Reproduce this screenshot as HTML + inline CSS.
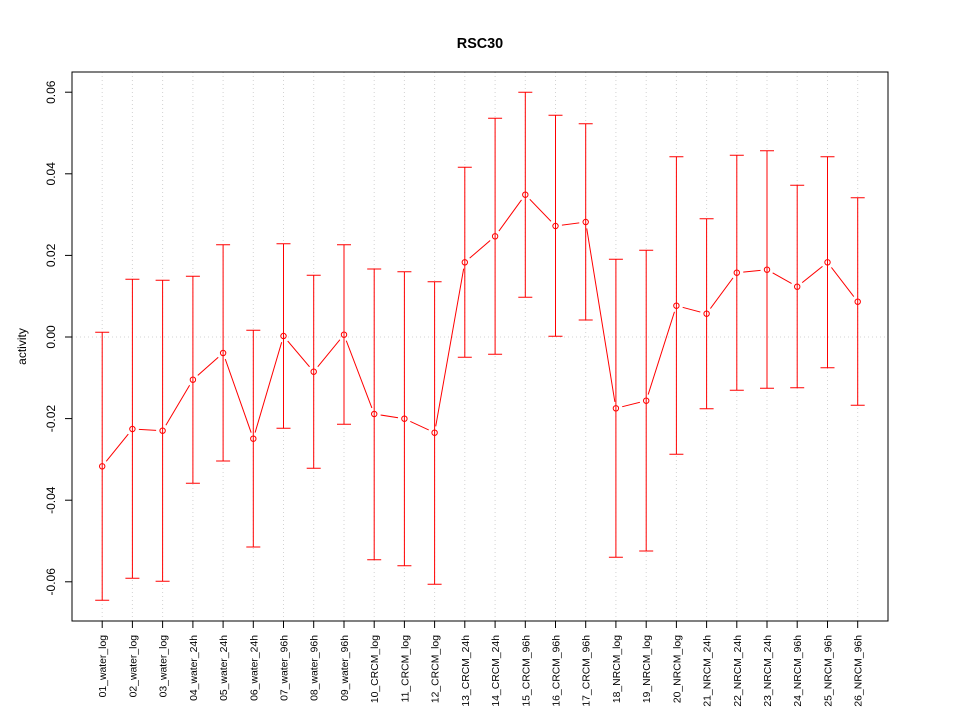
<!DOCTYPE html>
<html><head><meta charset="utf-8"><style>
html,body{margin:0;padding:0;background:#fff;}
svg{display:block;font-family:"Liberation Sans",Arial,sans-serif;}
</style></head><body>
<svg width="960" height="720" viewBox="0 0 960 720" xmlns="http://www.w3.org/2000/svg">
<rect width="960" height="720" fill="#fff"/>
<defs>
<mask id="gapmask" maskUnits="userSpaceOnUse" x="0" y="0" width="960" height="720">
<rect width="960" height="720" fill="#fff"/>
<g fill="#000">
<circle cx="102.2" cy="466.3" r="6.5"/><circle cx="132.4" cy="429" r="6.5"/><circle cx="162.6" cy="430.7" r="6.5"/><circle cx="192.9" cy="379.7" r="6.5"/><circle cx="223.1" cy="353" r="6.5"/><circle cx="253.3" cy="438.7" r="6.5"/><circle cx="283.5" cy="336" r="6.5"/><circle cx="313.7" cy="371.7" r="6.5"/><circle cx="344" cy="334.7" r="6.5"/><circle cx="374.2" cy="414" r="6.5"/><circle cx="404.4" cy="418.7" r="6.5"/><circle cx="434.6" cy="432.7" r="6.5"/><circle cx="464.8" cy="262.3" r="6.5"/><circle cx="495.1" cy="236.3" r="6.5"/><circle cx="525.3" cy="194.7" r="6.5"/><circle cx="555.5" cy="226" r="6.5"/><circle cx="585.7" cy="222" r="6.5"/><circle cx="615.9" cy="408.3" r="6.5"/><circle cx="646.2" cy="400.7" r="6.5"/><circle cx="676.4" cy="305.7" r="6.5"/><circle cx="706.6" cy="313.7" r="6.5"/><circle cx="736.8" cy="272.7" r="6.5"/><circle cx="767" cy="269.7" r="6.5"/><circle cx="797.2" cy="286.7" r="6.5"/><circle cx="827.5" cy="262.3" r="6.5"/><circle cx="857.7" cy="301.7" r="6.5"/>
</g>
</mask>
</defs>

<!-- grid -->
<g stroke="#D3D3D3" stroke-width="1" stroke-dasharray="1,3" fill="none">
<line x1="102.2" y1="72" x2="102.2" y2="621"/><line x1="132.4" y1="72" x2="132.4" y2="621"/><line x1="162.6" y1="72" x2="162.6" y2="621"/><line x1="192.9" y1="72" x2="192.9" y2="621"/><line x1="223.1" y1="72" x2="223.1" y2="621"/><line x1="253.3" y1="72" x2="253.3" y2="621"/><line x1="283.5" y1="72" x2="283.5" y2="621"/><line x1="313.7" y1="72" x2="313.7" y2="621"/><line x1="344" y1="72" x2="344" y2="621"/><line x1="374.2" y1="72" x2="374.2" y2="621"/><line x1="404.4" y1="72" x2="404.4" y2="621"/><line x1="434.6" y1="72" x2="434.6" y2="621"/><line x1="464.8" y1="72" x2="464.8" y2="621"/><line x1="495.1" y1="72" x2="495.1" y2="621"/><line x1="525.3" y1="72" x2="525.3" y2="621"/><line x1="555.5" y1="72" x2="555.5" y2="621"/><line x1="585.7" y1="72" x2="585.7" y2="621"/><line x1="615.9" y1="72" x2="615.9" y2="621"/><line x1="646.2" y1="72" x2="646.2" y2="621"/><line x1="676.4" y1="72" x2="676.4" y2="621"/><line x1="706.6" y1="72" x2="706.6" y2="621"/><line x1="736.8" y1="72" x2="736.8" y2="621"/><line x1="767" y1="72" x2="767" y2="621"/><line x1="797.2" y1="72" x2="797.2" y2="621"/><line x1="827.5" y1="72" x2="827.5" y2="621"/><line x1="857.7" y1="72" x2="857.7" y2="621"/>
<line x1="72" y1="337" x2="888" y2="337"/>
</g>

<!-- error bars -->
<g stroke="#FF0000" stroke-width="1" fill="none">
<path d="M102.2 332.3V600.3M95.2 332.3H109.2M95.2 600.3H109.2"/>
<path d="M132.4 279.3V578.3M125.4 279.3H139.4M125.4 578.3H139.4"/>
<path d="M162.6 280.3V581.3M155.6 280.3H169.6M155.6 581.3H169.6"/>
<path d="M192.9 276.3V483.3M185.9 276.3H199.9M185.9 483.3H199.9"/>
<path d="M223.1 244.7V461M216.1 244.7H230.1M216.1 461H230.1"/>
<path d="M253.3 330.3V547M246.3 330.3H260.3M246.3 547H260.3"/>
<path d="M283.5 243.7V428.3M276.5 243.7H290.5M276.5 428.3H290.5"/>
<path d="M313.7 275.3V468.3M306.7 275.3H320.7M306.7 468.3H320.7"/>
<path d="M344 244.7V424.3M337 244.7H351M337 424.3H351"/>
<path d="M374.2 269V559.7M367.2 269H381.2M367.2 559.7H381.2"/>
<path d="M404.4 271.7V565.7M397.4 271.7H411.4M397.4 565.7H411.4"/>
<path d="M434.6 281.7V584.3M427.6 281.7H441.6M427.6 584.3H441.6"/>
<path d="M464.8 167.3V357.3M457.8 167.3H471.8M457.8 357.3H471.8"/>
<path d="M495.1 118.3V354.3M488.1 118.3H502.1M488.1 354.3H502.1"/>
<path d="M525.3 92.3V297.3M518.3 92.3H532.3M518.3 297.3H532.3"/>
<path d="M555.5 115.3V336.3M548.5 115.3H562.5M548.5 336.3H562.5"/>
<path d="M585.7 123.7V320M578.7 123.7H592.7M578.7 320H592.7"/>
<path d="M615.9 259.3V557.3M608.9 259.3H622.9M608.9 557.3H622.9"/>
<path d="M646.2 250.3V551M639.2 250.3H653.2M639.2 551H653.2"/>
<path d="M676.4 156.7V454.3M669.4 156.7H683.4M669.4 454.3H683.4"/>
<path d="M706.6 218.7V408.7M699.6 218.7H713.6M699.6 408.7H713.6"/>
<path d="M736.8 155.3V390.3M729.8 155.3H743.8M729.8 390.3H743.8"/>
<path d="M767 150.7V388.3M760 150.7H774M760 388.3H774"/>
<path d="M797.2 185.3V387.7M790.2 185.3H804.2M790.2 387.7H804.2"/>
<path d="M827.5 156.7V367.7M820.5 156.7H834.5M820.5 367.7H834.5"/>
<path d="M857.7 197.7V405.3M850.7 197.7H864.7M850.7 405.3H864.7"/>
</g>

<!-- connecting line with gaps -->
<polyline mask="url(#gapmask)" fill="none" stroke="#FF0000" stroke-width="1" points="102.2,466.3 132.4,429 162.6,430.7 192.9,379.7 223.1,353 253.3,438.7 283.5,336 313.7,371.7 344,334.7 374.2,414 404.4,418.7 434.6,432.7 464.8,262.3 495.1,236.3 525.3,194.7 555.5,226 585.7,222 615.9,408.3 646.2,400.7 676.4,305.7 706.6,313.7 736.8,272.7 767,269.7 797.2,286.7 827.5,262.3 857.7,301.7"/>

<!-- points -->
<g fill="none" stroke="#FF0000" stroke-width="1">
<circle cx="102.2" cy="466.3" r="2.7"/><circle cx="132.4" cy="429" r="2.7"/><circle cx="162.6" cy="430.7" r="2.7"/><circle cx="192.9" cy="379.7" r="2.7"/><circle cx="223.1" cy="353" r="2.7"/><circle cx="253.3" cy="438.7" r="2.7"/><circle cx="283.5" cy="336" r="2.7"/><circle cx="313.7" cy="371.7" r="2.7"/><circle cx="344" cy="334.7" r="2.7"/><circle cx="374.2" cy="414" r="2.7"/><circle cx="404.4" cy="418.7" r="2.7"/><circle cx="434.6" cy="432.7" r="2.7"/><circle cx="464.8" cy="262.3" r="2.7"/><circle cx="495.1" cy="236.3" r="2.7"/><circle cx="525.3" cy="194.7" r="2.7"/><circle cx="555.5" cy="226" r="2.7"/><circle cx="585.7" cy="222" r="2.7"/><circle cx="615.9" cy="408.3" r="2.7"/><circle cx="646.2" cy="400.7" r="2.7"/><circle cx="676.4" cy="305.7" r="2.7"/><circle cx="706.6" cy="313.7" r="2.7"/><circle cx="736.8" cy="272.7" r="2.7"/><circle cx="767" cy="269.7" r="2.7"/><circle cx="797.2" cy="286.7" r="2.7"/><circle cx="827.5" cy="262.3" r="2.7"/><circle cx="857.7" cy="301.7" r="2.7"/>
</g>

<!-- box -->
<rect x="72" y="72" width="816" height="549" fill="none" stroke="#000" stroke-width="1"/>

<!-- axes -->
<g stroke="#000" stroke-width="1" fill="none">
<line x1="72" y1="92.2" x2="72" y2="581.8"/>
<line x1="65" y1="92.2" x2="72" y2="92.2"/><line x1="65" y1="173.8" x2="72" y2="173.8"/><line x1="65" y1="255.4" x2="72" y2="255.4"/><line x1="65" y1="337" x2="72" y2="337"/><line x1="65" y1="418.6" x2="72" y2="418.6"/><line x1="65" y1="500.2" x2="72" y2="500.2"/><line x1="65" y1="581.8" x2="72" y2="581.8"/>
<line x1="102.2" y1="621" x2="857.7" y2="621"/>
<path d="M102.2 621V628M132.4 621V628M162.6 621V628M192.9 621V628M223.1 621V628M253.3 621V628M283.5 621V628M313.7 621V628M344 621V628M374.2 621V628M404.4 621V628M434.6 621V628M464.8 621V628M495.1 621V628M525.3 621V628M555.5 621V628M585.7 621V628M615.9 621V628M646.2 621V628M676.4 621V628M706.6 621V628M736.8 621V628M767 621V628M797.2 621V628M827.5 621V628M857.7 621V628"/>
</g>

<!-- y tick labels -->
<g font-size="12" fill="#000" text-anchor="middle">
<text transform="translate(55,92.2) rotate(-90)">0.06</text>
<text transform="translate(55,173.8) rotate(-90)">0.04</text>
<text transform="translate(55,255.4) rotate(-90)">0.02</text>
<text transform="translate(55,337) rotate(-90)">0.00</text>
<text transform="translate(55,418.6) rotate(-90)">-0.02</text>
<text transform="translate(55,500.2) rotate(-90)">-0.04</text>
<text transform="translate(55,581.8) rotate(-90)">-0.06</text>
</g>

<!-- x tick labels -->
<g font-size="10.4" fill="#000" text-anchor="end">
<text transform="translate(106.2,635) rotate(-90)">01_water_log</text>
<text transform="translate(136.4,635) rotate(-90)">02_water_log</text>
<text transform="translate(166.6,635) rotate(-90)">03_water_log</text>
<text transform="translate(196.9,635) rotate(-90)">04_water_24h</text>
<text transform="translate(227.1,635) rotate(-90)">05_water_24h</text>
<text transform="translate(257.3,635) rotate(-90)">06_water_24h</text>
<text transform="translate(287.5,635) rotate(-90)">07_water_96h</text>
<text transform="translate(317.7,635) rotate(-90)">08_water_96h</text>
<text transform="translate(348,635) rotate(-90)">09_water_96h</text>
<text transform="translate(378.2,635) rotate(-90)">10_CRCM_log</text>
<text transform="translate(408.4,635) rotate(-90)">11_CRCM_log</text>
<text transform="translate(438.6,635) rotate(-90)">12_CRCM_log</text>
<text transform="translate(468.8,635) rotate(-90)">13_CRCM_24h</text>
<text transform="translate(499.1,635) rotate(-90)">14_CRCM_24h</text>
<text transform="translate(529.3,635) rotate(-90)">15_CRCM_96h</text>
<text transform="translate(559.5,635) rotate(-90)">16_CRCM_96h</text>
<text transform="translate(589.7,635) rotate(-90)">17_CRCM_96h</text>
<text transform="translate(619.9,635) rotate(-90)">18_NRCM_log</text>
<text transform="translate(650.2,635) rotate(-90)">19_NRCM_log</text>
<text transform="translate(680.4,635) rotate(-90)">20_NRCM_log</text>
<text transform="translate(710.6,635) rotate(-90)">21_NRCM_24h</text>
<text transform="translate(740.8,635) rotate(-90)">22_NRCM_24h</text>
<text transform="translate(771,635) rotate(-90)">23_NRCM_24h</text>
<text transform="translate(801.2,635) rotate(-90)">24_NRCM_96h</text>
<text transform="translate(831.5,635) rotate(-90)">25_NRCM_96h</text>
<text transform="translate(861.7,635) rotate(-90)">26_NRCM_96h</text>
</g>

<!-- axis title -->
<text transform="translate(26,346.5) rotate(-90)" font-size="12" text-anchor="middle" fill="#000">activity</text>

<!-- main title -->
<text x="480" y="48" font-size="14.4" font-weight="bold" text-anchor="middle" fill="#000">RSC30</text>
</svg>
</body></html>
